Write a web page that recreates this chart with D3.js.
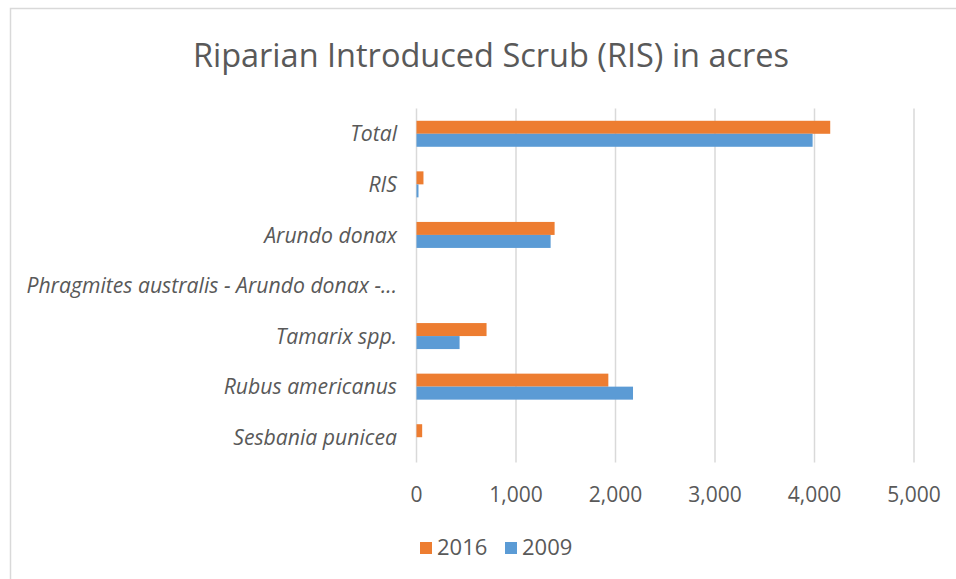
<!DOCTYPE html>
<html>
<head>
<meta charset="utf-8">
<script src="https://cdn.jsdelivr.net/npm/d3@7"></script>
<style>
  body { margin: 0; background: #fff; }
  text { font-family: "Open Sans", sans-serif; fill: #595959; }
</style>
</head>
<body>
<svg id="chart" width="956" height="579"></svg>
<script>
"use strict";

// categories, top to bottom
const categories = [
  "Total",
  "RIS",
  "Arundo donax",
  "Phragmites australis - Arundo donax -...",
  "Tamarix spp.",
  "Rubus americanus",
  "Sesbania punicea"
];
const seriesNames = ["2016", "2009"];
const values2016 = [4158, 70, 1388, 0, 704, 1928, 57];
const values2009 = [3981, 20, 1348, 0, 433, 2176, 0];
const xTicks = [0, 1000, 2000, 3000, 4000, 5000];
const colors = ["#ed7d31", "#5b9bd5"];

const svg = d3.select("#chart");

// outer chart frame
svg.append("rect")
  .attr("x", 10.5).attr("y", 8.5)
  .attr("width", 960).attr("height", 600)
  .attr("fill", "none")
  .attr("stroke", "#d9d9d9")
  .attr("stroke-width", 1.5);

svg.append("text")
  .attr("x", 491)
  .attr("y", 58)
  .attr("text-anchor", "middle")
  .attr("dominant-baseline", "middle")
  .attr("font-size", 32.5)
  .text("Riparian Introduced Scrub (RIS) in acres");

const x = d3.scaleLinear().domain([0, 5000]).range([416.5, 914]);
const y = d3.scaleBand().domain(categories).range([108.5, 462.5]);
const inner = d3.scaleBand().domain(seriesNames)
  .range([y.bandwidth() / 2 - 13, y.bandwidth() / 2 + 13]);

// gridlines
svg.append("g").selectAll("line")
  .data(xTicks)
  .enter()
  .append("line")
  .attr("x1", d => x(d)).attr("x2", d => x(d))
  .attr("y1", y.range()[0]).attr("y2", y.range()[1])
  .style("stroke", "#d9d9d9")
  .style("stroke-width", 1.5);

// bars
const rows = categories.map((c, i) => ({
  cat: c,
  vals: [values2016[i], values2009[i]]
}));

const groups = svg.append("g").selectAll("g")
  .data(rows)
  .enter()
  .append("g")
  .attr("transform", d => `translate(0,${y(d.cat)})`);

groups.selectAll("rect")
  .data(d => d.vals.map((v, j) => ({ name: seriesNames[j], v: v, j: j })))
  .enter()
  .append("rect")
  .attr("x", x(0))
  .attr("y", d => inner(d.name))
  .attr("width", d => x(d.v) - x(0))
  .attr("height", inner.bandwidth())
  .attr("fill", d => colors[d.j]);

// category labels
svg.append("g").selectAll("text")
  .data(categories)
  .enter()
  .append("text")
  .attr("x", 397)
  .attr("y", d => y(d) + y.bandwidth() / 2 + 2)
  .attr("text-anchor", "end")
  .attr("dominant-baseline", "middle")
  .attr("font-size", 21.2)
  .attr("font-style", "italic")
  .text(d => d);

// x tick labels
svg.append("g").selectAll("text")
  .data(xTicks)
  .enter()
  .append("text")
  .attr("x", d => x(d))
  .attr("y", 496)
  .attr("text-anchor", "middle")
  .attr("dominant-baseline", "middle")
  .attr("font-size", 21)
  .text(d3.format(","));

// legend
const legend = svg.append("g").selectAll("g")
  .data(seriesNames)
  .enter()
  .append("g")
  .attr("transform", (d, i) => `translate(${420 + i * 85},548)`);

legend.append("rect")
  .attr("x", 0).attr("y", -6)
  .attr("width", 12).attr("height", 12)
  .attr("fill", (d, i) => colors[i]);

legend.append("text")
  .attr("x", 17)
  .attr("y", 1)
  .attr("dominant-baseline", "middle")
  .attr("font-size", 22)
  .text(d => d);
</script>
</body>
</html>
